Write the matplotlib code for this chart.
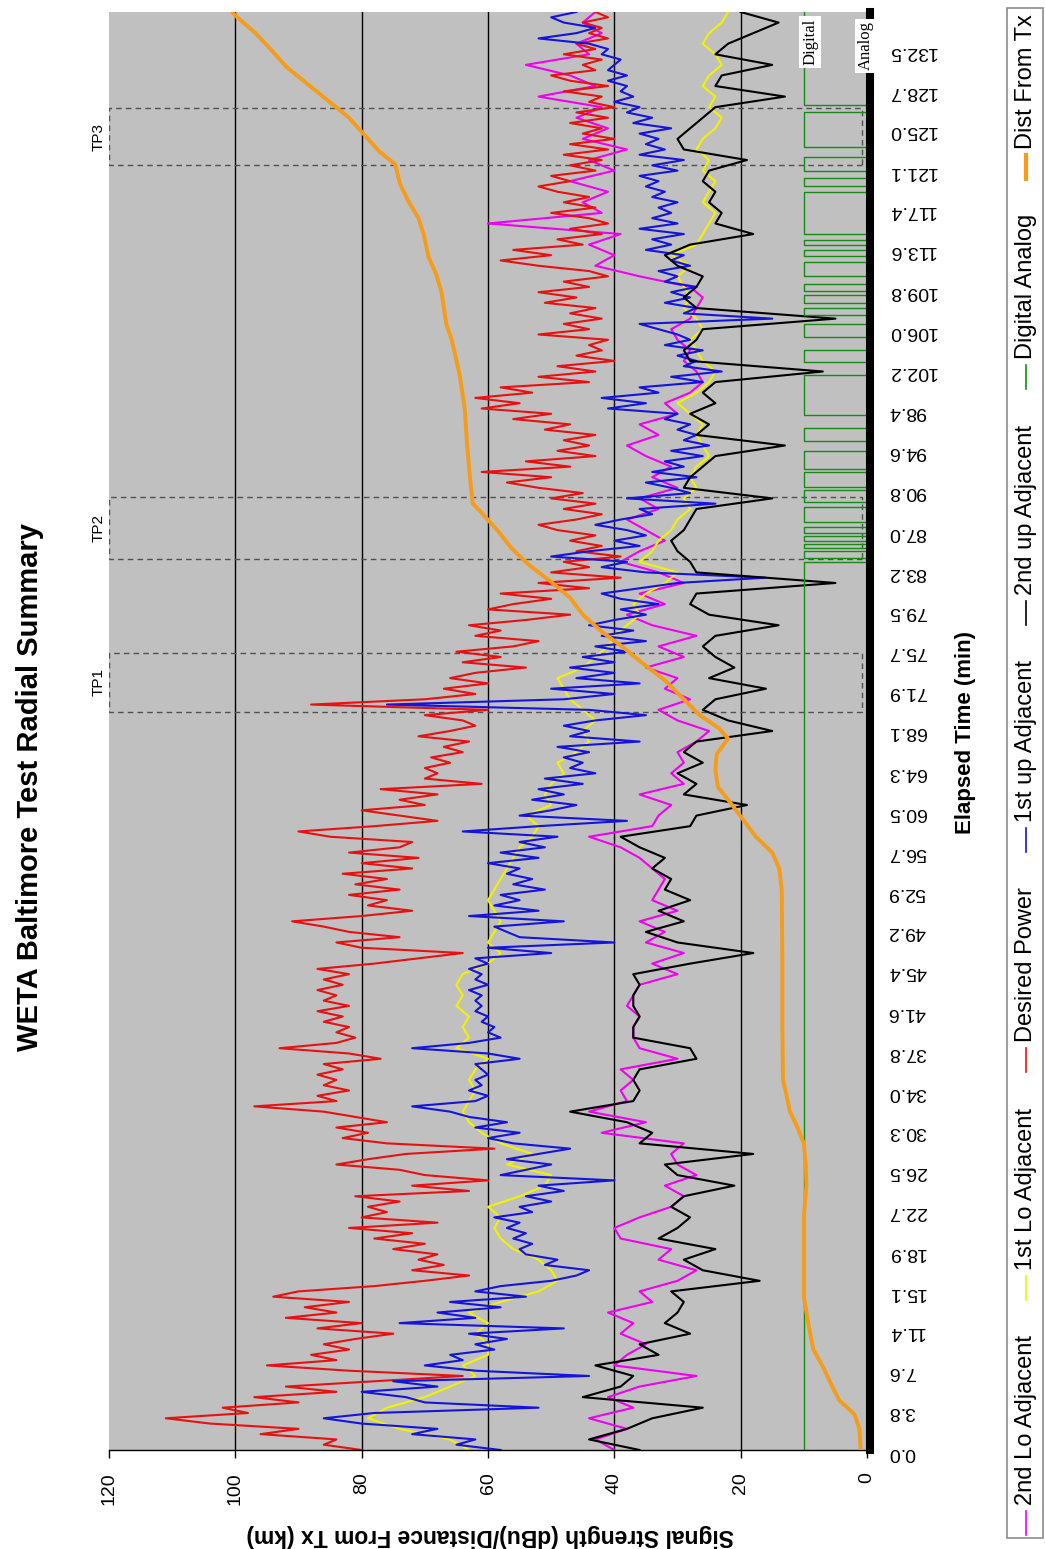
import numpy as np
import matplotlib
matplotlib.use("Agg")
import matplotlib.pyplot as plt
from matplotlib import font_manager
from matplotlib.patches import Rectangle
from matplotlib.lines import Line2D

plt.rcParams['font.family'] = ['Liberation Sans', 'DejaVu Sans']

# ---- data ----
time_labels = ["0.0", "3.8", "7.6", "11.4", "15.1", "18.9", "22.7", "26.5", "30.3",
               "34.0", "37.8", "41.6", "45.4", "49.2", "52.9", "56.7", "60.5", "64.3",
               "68.1", "71.9", "75.7", "79.5", "83.2", "87.0", "90.8", "94.6", "98.4",
               "102.2", "106.0", "109.8", "113.6", "117.4", "121.1", "125.0", "128.7", "132.5"]
value_ticks = [0, 20, 40, 60, 80, 100, 120]

# half-minute samples, t = 0 .. 136 min
t_half = np.arange(273) * 0.5
desired_power = [
    80, 86, 84, 96, 90, 104, 111, 98, 102, 90, 97, 84, 92, 78, 64, 82, 95, 84, 88, 82,
    86, 81, 75, 87, 80, 92, 84, 89, 82, 94, 90, 78, 70, 63, 72, 67, 71, 68, 75, 70,
    78, 72, 82, 68, 80, 76, 79, 74, 81, 63, 72, 60, 70, 74, 84, 79, 73, 59, 76, 83,
    79, 84, 76, 81, 86, 97, 84, 87, 82, 86, 84, 87, 83, 86, 77, 82, 93, 84, 81, 84,
    82, 86, 83, 87, 82, 86, 84, 87, 83, 86, 82, 87, 78, 71, 64, 80, 84, 74, 82, 86,
    91, 80, 72, 79, 76, 82, 74, 81, 76, 83, 72, 80, 71, 82, 74, 72, 85, 90, 78, 68,
    74, 80, 70, 74, 68, 77, 61, 70, 68, 70, 66, 69, 64, 67, 63, 71, 66, 62, 64, 70,
    60, 88, 70, 62, 67, 60, 66, 62, 54, 64, 58, 65, 56, 52, 62, 58, 63, 54, 47, 60,
    56, 50, 58, 44, 52, 39, 50, 44, 48, 39, 46, 42, 47, 43, 49, 52, 46, 42, 48, 43,
    50, 45, 52, 57, 50, 61, 47, 54, 43, 49, 44, 48, 43, 51, 47, 56, 50, 61, 55, 62,
    53, 58, 44, 52, 43, 49, 40, 46, 42, 44, 41, 52, 44, 48, 42, 47, 43, 51, 46, 52,
    44, 48, 41, 44, 52, 58, 50, 56, 45, 49, 42, 47, 41, 44, 50, 43, 48, 44, 49, 52,
    47, 50, 43, 47, 42, 48, 41, 47, 40, 45, 42, 47, 41, 46, 40, 44, 42, 48, 41, 47,
    50, 43, 45, 42, 48, 43, 46, 41, 44, 42, 45, 41, 43]
first_up = [
    58, 65, 62, 72, 68, 80, 86, 78, 52, 70, 73, 80, 68, 75, 44, 62, 70, 64, 66, 59,
    62, 57, 63, 48, 74, 62, 68, 58, 66, 54, 62, 58, 50, 46, 44, 51, 49, 54, 55, 53,
    56, 54, 57, 55, 59, 53, 55, 50, 54, 48, 52, 40, 58, 54, 50, 57, 52, 47, 56, 60,
    55, 62, 57, 63, 66, 72, 62, 60, 63, 61, 62, 60, 61, 62, 55, 60, 72, 63, 58, 60,
    59, 61, 60, 62, 61, 62, 61, 63, 60, 62, 61, 63, 60, 62, 50, 60, 40, 55, 57, 59,
    48, 63, 52, 59, 55, 58, 51, 56, 53, 57, 55, 60, 52, 58, 51, 55, 49, 64, 52, 38,
    55, 50, 46, 53, 48, 52, 45, 51, 43, 47, 45, 48, 44, 49, 36, 47, 44, 48, 43, 35,
    44, 76, 48, 40, 50, 36, 46, 40, 47, 40, 45, 38, 43, 35, 42, 37, 44, 40, 35, 39,
    33, 39, 42, 36, 30, 16, 35, 42, 38, 50, 44, 36, 40, 35, 38, 43, 39, 34, 36, 24,
    38, 28, 31, 35, 27, 34, 29, 32, 26, 31, 25, 29, 27, 30, 28, 32, 30, 41, 35, 42,
    33, 36, 26, 31, 23, 29, 27, 30, 26, 32, 28, 30, 33, 36, 15, 29, 27, 32, 28, 31,
    27, 32, 30, 33, 28, 31, 29, 35, 31, 34, 29, 36, 30, 34, 31, 33, 30, 34, 32, 35,
    33, 36, 30, 34, 29, 36, 32, 35, 33, 36, 31, 37, 34, 38, 36, 40, 37, 39, 38, 41,
    38, 41, 40, 39, 42, 41, 44, 52, 46, 43, 48, 50, 46]

# one-minute samples, t = 0 .. 136 min
t_min = np.arange(137)
first_lo = [
    63, 66, 74, 79, 76, 70, 66, 62, 64, 60,
    60, 62, 60, 63, 58, 52, 49, 50, 52, 56,
    58, 59, 58, 60, 55, 51, 50, 57, 53, 58,
    61, 63, 64, 63, 62, 63, 62, 60, 65, 63,
    64, 63, 65, 64, 65, 64, 60, 58, 60, 59,
    58, 59, 60, 59, 58, 57, 56, 55, 53, 52,
    54, 50, 51, 50, 48, 49, 46, 44, 45, 43,
    45, 47, 48, 49, 45, 43, 41, 40, 38, 36,
    37, 35, 32, 30, 36, 34, 33, 31, 30, 28,
    29, 27, 28, 27, 25, 26, 27, 26, 28, 30,
    27, 25, 24, 26, 27, 28, 26, 27, 29, 28,
    29, 30, 28, 31, 27, 26, 25, 24, 26, 25,
    24, 26, 25, 27, 26, 24, 23, 25, 24, 26,
    25, 23, 24, 26, 25, 23, 22]
second_lo = [
    40, 43, 38, 44, 37, 41, 36, 27, 40, 38,
    35, 39, 37, 41, 34, 36, 30, 27, 33, 31,
    39, 40, 36, 31, 29, 32, 27, 30, 31, 29,
    42, 35, 44, 38, 39, 37, 39, 30, 36, 37,
    37, 36, 38, 37, 36, 30, 34, 29, 35, 32,
    36, 30, 34, 33, 32, 34, 36, 39, 44, 34,
    33, 31, 36, 29, 31, 29, 30, 27, 25, 30,
    33, 28, 32, 30, 35, 29, 33, 27, 34, 38,
    32, 36, 29, 33, 39, 36, 32, 35, 38, 33,
    36, 30, 34, 31, 35, 38, 33, 36, 30, 32,
    28, 26, 27, 29, 28, 30, 31, 28, 27, 26,
    28, 36, 43, 40, 44, 39, 60, 42, 45, 41,
    47, 40, 44, 38, 45, 41, 46, 42, 52, 43,
    47, 54, 44, 46, 42, 45, 43]
second_up = [
    36, 44, 38, 34, 26, 45, 39, 37, 43, 33,
    36, 28, 32, 30, 29, 31, 17, 26, 29, 24,
    33, 30, 28, 31, 29, 21, 30, 32, 18, 36,
    34, 38, 47, 37, 36, 37, 36, 27, 28, 37,
    37, 36, 37, 37, 36, 37, 28, 18, 30, 35,
    29, 33, 28, 32, 31, 34, 32, 36, 39, 28,
    27, 19, 29, 27, 30, 26, 29, 27, 15, 22,
    26, 24, 16, 25, 21, 24, 26, 24, 14, 25,
    28, 27, 5, 27, 28, 30, 31, 29, 28, 27,
    15, 29, 28, 26, 24, 13, 27, 25, 28, 24,
    26, 24, 7, 28, 29, 27, 26, 5, 27, 29,
    27, 26, 30, 32, 28, 18, 24, 23, 25, 24,
    26, 25, 19, 29, 30, 28, 26, 24, 13, 24,
    23, 15, 24, 22, 18, 14, 20]

# digital (10) / analog (0) state changes
digital_t = [0, 84.0, 84.4, 85.0, 85.3, 85.7, 86.0, 86.4, 86.7, 87.3, 87.8, 89.2, 89.7,
             90.8, 91.1, 92.5, 92.8, 94.5, 95.4, 96.7, 97.9, 101.7, 102.9, 104.0, 105.3,
             106.5, 107.3, 108.0, 108.5, 109.2, 109.6, 110.3, 111.0, 112.4, 112.9, 113.5,
             114.0, 114.4, 115.0, 119.0, 119.5, 120.3, 121.0, 122.3, 123.2, 126.5, 127.2, 136]
digital_v = [10, 0, 10, 0, 10, 0, 10, 0, 10, 0, 10, 0, 10,
             0, 10, 0, 10, 0, 10, 0, 10, 0, 10, 0, 10,
             0, 10, 0, 10, 0, 10, 0, 10, 0, 10, 0,
             10, 0, 10, 0, 10, 0, 10, 0, 10, 0, 10, 10]

dist_t = [0, 2, 3.4, 4.7, 6, 7.9, 9.5, 12, 14.5, 18, 22, 25, 27, 29, 30.5, 32, 33.7, 35,
          40, 46, 53, 55, 56.5, 58, 59.6, 61.2, 62.7, 64.3, 65.8, 67.3, 68.3, 69.5, 71,
          72.8, 74.4, 76, 77.4, 79, 80.6, 82.1, 83.7, 85.3, 86.9, 88.5, 89.5, 91.6, 95,
          98.6, 101.7, 104.9, 106.5, 109.6, 111.2, 112.8, 115, 116.5, 118.1, 119.7, 121.6,
          122.8, 124.4, 126, 127.6, 129.2, 130.8, 132.4, 134, 135.5, 136]
dist_km = [1, 1.2, 2, 4.4, 5.5, 7, 8.5, 9.3, 10, 10, 10, 9.6, 9.7, 10, 11, 12.2, 12.8, 13.3,
           13.4, 13.4, 13.5, 13.9, 15, 17.6, 19.6, 21.6, 23.6, 24, 23.8, 22, 23.5, 26.5, 29,
           32, 35.5, 38.8, 42, 45, 47, 50, 53.5, 56.3, 58.4, 60.8, 62.4, 62.8, 63.3,
           63.7, 64.5, 65.7, 66.6, 67.4, 68.2, 69.4, 70.2, 71, 72.6, 73.9, 74.7,
           77.2, 79.6, 82, 85.3, 88.6, 91.9, 94.3, 96.8, 99.7, 100.5]

test_points = ["TP1", "TP2", "TP3"]
tp_start = [69.8, 84.3, 121.5]
tp_end = [75.4, 90.1, 126.9]

c_mag, c_yel, c_red, c_blue = '#f000f0', '#f2f200', '#e81010', '#1414dc'
c_blk, c_grn, c_org = '#000000', '#148c14', '#f59c1a'

# ---- figure (chart is drawn turned a quarter turn) ----
W, H = 1045, 1549
fig = plt.figure(figsize=(W / 100, H / 100), dpi=100)


def fx(px):
    return px / W


def fy(py):
    return 1 - py / H


ax = fig.add_axes([fx(109), fy(1450), fx(867) - fx(109), fy(12) - fy(1450)])
ax.set_facecolor('#c0c0c0')
ax.set_xlim(120, 0)
ax.set_ylim(0, 136)

for v in value_ticks[1:-1]:
    ax.axvline(v, color='black', lw=1.0, zorder=1)

for name, a, b in zip(test_points, tp_start, tp_end):
    ax.add_patch(Rectangle((0.8, a), 119.2, b - a, fill=False, ec='#505050',
                           lw=1.0, ls=(0, (4, 3)), zorder=1.5))
    fig.text(fx(99), ax.transData.transform((0, (a + b) / 2))[1] / fig.bbox.height,
             name, rotation=90, fontsize=11, ha='center', va='center')

lw_s = 1.5
ax.plot(second_lo, t_min, color=c_mag, lw=lw_s, zorder=2)
ax.plot(first_lo, t_min, color=c_yel, lw=lw_s, zorder=2)
ax.plot(desired_power, t_half, color=c_red, lw=lw_s, zorder=2)
ax.plot(first_up, t_half, color=c_blue, lw=lw_s, zorder=2)
ax.plot(second_up, t_min, color=c_blk, lw=lw_s, zorder=2)

step_t = np.repeat(digital_t, 2)[1:]
step_v = np.repeat(digital_v, 2)[:-1]
ax.plot(step_v, step_t, color=c_grn, lw=1.0, zorder=2)
ax.plot(dist_km, dist_t, color=c_org, lw=2.8, zorder=3, solid_capstyle='round')

ax.text(9.0, 133.2, "Digital", rotation=90, fontsize=12, family='Liberation Serif',
        ha='center', va='center', zorder=10,
        bbox=dict(facecolor='white', edgecolor='none', pad=2))
ax.text(0.2, 132.8, "Analog", rotation=90, fontsize=12, family='Liberation Serif',
        ha='center', va='center', zorder=10, clip_on=False,
        bbox=dict(facecolor='white', edgecolor='none', pad=2))

# axes styling
ax.set_xticks(value_ticks)
ax.set_xticklabels([str(v) for v in value_ticks])
ax.tick_params(axis='x', direction='out', length=6, width=1, pad=10,
               labelsize=14, labelrotation=90)
ax.yaxis.tick_right()
ax.set_yticks([float(s) for s in time_labels])
ax.set_yticklabels(time_labels)
ax.tick_params(axis='y', length=0, pad=13, labelsize=14, labelrotation=180)
ax.spines['top'].set_visible(False)
ax.spines['left'].set_visible(False)
ax.spines['right'].set_linewidth(5.8)
ax.spines['right'].set_position(('outward', 2))
ax.spines['bottom'].set_linewidth(1.0)

fig.text(fx(30), fy(787), "WETA Baltimore Test Radial Summary", rotation=90,
         fontsize=21, fontweight='bold', ha='center', va='center')
fig.text(fx(490), fy(1535), "Signal Strength (dBu)/Distance From Tx (km)", rotation=180,
         fontsize=16.5, fontweight='bold', ha='center', va='center')
fig.text(fx(966), fy(732), "Elapsed Time (min)", rotation=90,
         fontsize=16, fontweight='bold', ha='center', va='center')

# legend (turned with the chart)
legend_labels = ["2nd Lo Adjacent", "1st Lo Adjacent", "Desired Power", "1st up Adjacent",
                 "2nd up Adjacent", "Digital Analog", "Dist From Tx"]
legend_colors = [c_mag, c_yel, c_red, c_blue, c_blk, c_grn, c_org]
legend_widths = [1.2, 1.2, 1.2, 1.2, 1.2, 1.2, 3.0]

installed = {f.name for f in font_manager.fontManager.ttflist}
if 'Liberation Sans Narrow' in installed:
    leg_family, leg_size = 'Liberation Sans Narrow', 19
else:
    leg_family, leg_size = 'Liberation Sans', 17

fig.add_artist(Rectangle((fx(1007), fy(1538)), fx(1043) - fx(1007), fy(8) - fy(1538),
                         transform=fig.transFigure, fill=False, ec='#8c8c8c', lw=1.2))
renderer = fig.canvas.get_renderer()
texts, lens = [], []
for lab in legend_labels:
    t = fig.text(fx(1026), 0, lab, rotation=90, fontsize=leg_size, family=leg_family,
                 ha='center', va='bottom')
    texts.append(t)
    lens.append(t.get_window_extent(renderer).height)
line_len, gap1 = 24, 6
y0, y1 = 1535, 14
gap2 = ((y0 - y1) - len(texts) * (line_len + gap1) - sum(lens)) / (len(texts) - 1)
y = y0
for t, L, c, w in zip(texts, lens, legend_colors, legend_widths):
    fig.add_artist(Line2D([fx(1026), fx(1026)], [fy(y), fy(y - line_len)], color=c, lw=w,
                          transform=fig.transFigure))
    y -= line_len + gap1
    t.set_position((fx(1026), fy(y)))
    y -= L + gap2

fig.savefig("out.png", dpi=100, facecolor='white')
